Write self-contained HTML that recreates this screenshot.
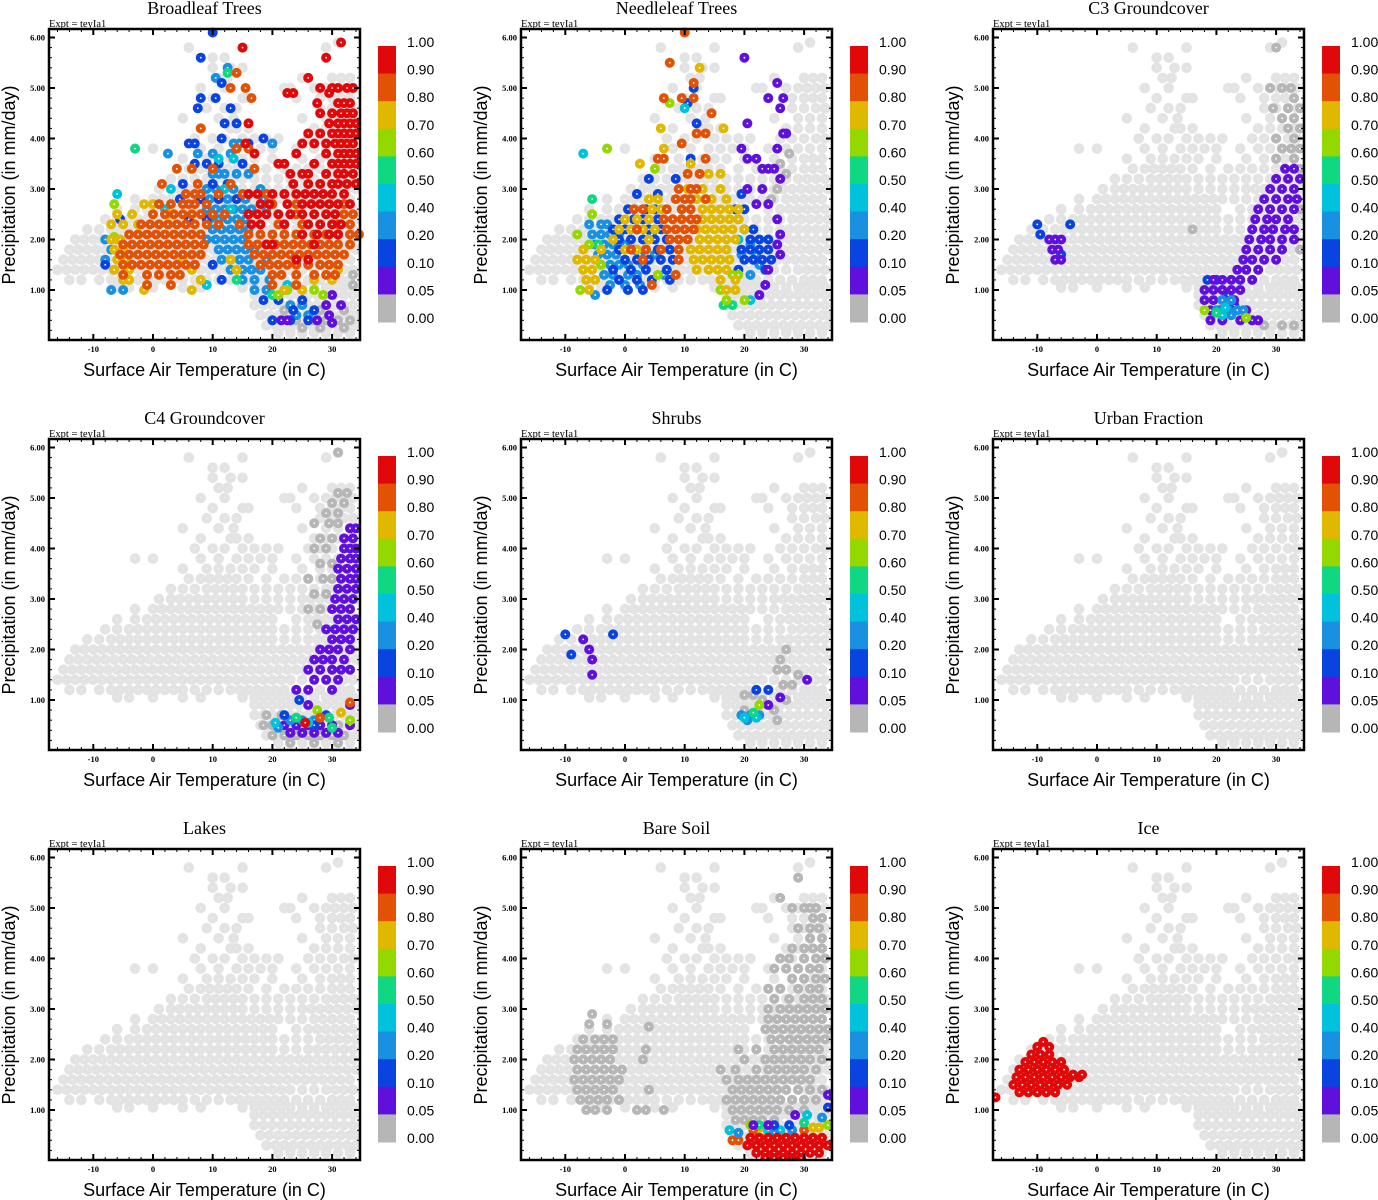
<!DOCTYPE html>
<html><head><meta charset="utf-8"><style>
html,body{margin:0;padding:0;background:#fff;}
svg{display:block;}
</style></head><body>
<svg id="chart" width="1378" height="1200" viewBox="0 0 1378 1200" xmlns="http://www.w3.org/2000/svg"></svg>
<script>
// ---- data ----
const panelTitles = ["Broadleaf Trees","Needleleaf Trees","C3 Groundcover","C4 Groundcover","Shrubs","Urban Fraction","Lakes","Bare Soil","Ice"];
const xTicks = [-10,0,10,20,30];
const yTicks = [1,2,3,4,5,6];
const yTickLabels = ["1.00","2.00","3.00","4.00","5.00","6.00"];
const cbLabels = ["1.00","0.90","0.80","0.70","0.60","0.50","0.40","0.20","0.10","0.05","0.00"];
const cbColors = ["#e00808","#e25206","#e0b800","#94d800","#10d882","#00c2dc","#1a90e0","#0a44e0","#6010dc","#b6b6b6"];
const cbBounds = [1.0,0.9,0.8,0.7,0.6,0.5,0.4,0.2,0.1,0.05,0.0];
// background cloud: each row = [P, T...]
const bgRows = [
[0.15,21,23,25,27,29,31,33],
[0.3,19,20.5,22,23.5,25,26.5,28,29.5,31,32.5,34],
[0.5,18,19.5,21,22.5,24,25.5,27,28.5,30,31.5,33,34],
[0.7,17,18.5,20,21.5,23,24.5,26,27.5,29,30.5,32,33.5],
[0.9,17,18.5,20,21.5,23,24.5,26,27.5,29,30.5,32,33.5],
[1.05,-6,-4,0,5,8,15,17,18.5,20,21.5,23,25,27,29,30.5,32,33.5],
[1.2,-14,-12,-9,-7,-5.5,-4,-2.5,-1,0.5,2,3.5,5,7,9,11,13,14.5,16,17.5,19,20.5,22,24,26,28,30,31.5,33],
[1.4,-16,-14.5,-13,-11.5,-10,-8.5,-7,-5.5,-4,-2.5,-1,0.5,2,3.5,5,6.5,8,9.5,11,12.5,14,15.5,17,18.5,20,21.5,23,25,27,29,30.5,32,33.5],
[1.6,-15,-13.5,-12,-10.5,-9,-7.5,-6,-4.5,-3,-1.5,0,1.5,3,4.5,6,7.5,9,10.5,12,13.5,15,16.5,18,19.5,21,22.5,24,25.5,27,28.5,30,31.5,33],
[1.8,-14,-12.5,-11,-9.5,-8,-6.5,-5,-3.5,-2,-0.5,1,2.5,4,5.5,7,8.5,10,11.5,13,14.5,16,17.5,19,20.5,22,23.5,25,26.5,28,29.5,31,32.5,34],
[2.0,-13,-11.5,-10,-8.5,-7,-5.5,-4,-2.5,-1,0.5,2,3.5,5,6.5,8,9.5,11,12.5,14,15.5,17,18.5,20,21.5,23,24.5,26,27.5,29,30.5,32,33.5],
[2.2,-11,-9,-7,-5.5,-4,-2.5,-1,0.5,2,3.5,5,6.5,8,9.5,11,12.5,14,15.5,17,18.5,20,22,24,26,27.5,29,30.5,32,33.5],
[2.4,-8,-6,-4,-2.5,-1,0.5,2,3.5,5,6.5,8,9.5,11,12.5,14,15.5,17,18.5,20,22,24,26,28,29.5,31,32.5,34],
[2.6,-6,-3,-1,0.5,2,3.5,5,6.5,8,9.5,11,12.5,14,15.5,17,18.5,20,24,26,27.5,29,30.5,32,33.5],
[2.8,-3,0,1.5,3,4.5,6,7.5,9,10.5,12,13.5,15,16.5,18,19.5,21,23,25,27,28.5,30,31.5,33],
[3.0,1,3,4.5,6,7.5,9,10.5,12,13.5,15,17,19,21,23,25,26.5,28,29.5,31,32.5,34],
[3.2,3,5,7,9,10.5,12,13.5,15,17,19,21,23,25,27,29,30.5,32,33.5],
[3.4,6,8,9.5,11,12.5,14,16,19,22,24,26,28,30,31.5,33],
[3.6,5,9,11,13,15,17,20,25,28,30,31.5,33],
[3.8,-3,0,8,11,14,16,18,20,24,27,29,31,33],
[4.0,7,10,12,15,17,19,21,26,28,30,32,33.5],
[4.2,8,13,14,16,27,29,31,33],
[4.4,5,11,13.5,25,29,31,33],
[4.6,9,12,14,28,30,32,33.5],
[4.8,10,15,16,24,28,30,31.5,33],
[5.0,8,12,22,23,27,29,30.5,32,33.5],
[5.2,11,12.5,25,30,31.5,33],
[5.4,10,13,15],
[5.6,10,12],
[5.8,6,15,29],
[5.9,31]
];
// per-panel coloured points: each row = [value, P, T...]
const broadleafRows = [
[0,1.3,33.5],[0,1.1,33.5],[0,0.6,22,28,32],[0,0.4,24,27,29,31,33],[0,0.25,25,28,32],
[0.3,5.4,12.5],[0.3,5.2,10.5],[0.3,3.9,13.5,14.5,20],[0.3,3.7,2.5,7.5,10,13],[0.3,3.3,10,11,12,14,16],[0.3,3.0,9,10.5,12,13.5,18],[0.3,2.8,8,9.5,11,12.5,14,15.5,18.5],[0.3,2.6,9,10.5,12,13.5,15,16.5,19],[0.3,2.4,9.5,11,12.5,14,15.5],[0.3,2.2,10,11.5,13,14.5,16],[0.3,2.0,-8,9,10.5,12,13.5,15],[0.3,1.8,-7,11,12.5,14,15.5,17],[0.3,1.6,-8,11.5,13,14.5,16,19],[0.3,1.4,-6.5,13,15,16.5,18],[0.3,1.2,15,17,19.5],[0.3,1.0,-7,-5,17,19,22],[0.3,0.7,23,25],[0.3,0.5,24,26],
[0.15,6.1,10],[0.15,5.6,8],[0.15,5.1,11.5],[0.15,4.8,8,10.5],[0.15,4.6,7.5,13],[0.15,4.3,12,14],[0.15,4.0,11.5,18.5],[0.15,3.9,6,7,16],[0.15,3.5,7,9,11,15],[0.15,3.1,5,10,12.5],[0.15,2.8,4.5,8,11,14],[0.15,2.4,-5.5,6,9],[0.15,1.5,-8,7,10],[0.15,1.2,11.5],[0.15,0.8,18.5,21,25],[0.15,0.6,23.5,27],[0.15,0.4,20,23,26],
[0.07,0.9,30],[0.07,0.7,29,31.5],[0.07,0.5,29.5],[0.07,0.4,21.5,22.5,27.5],[0.07,0.35,30],
[0.45,2.9,-6],[0.45,3.6,11,13.5],[0.45,3.0,3,12],[0.45,2.6,2,13],[0.45,1.1,9,22.5],
[0.55,5.3,12.5],[0.55,3.8,-3],[0.55,1.2,14],[0.55,0.9,20],
[0.65,2.7,-6.5],[0.65,2.05,-6.5],[0.65,1.0,27,22.5],[0.65,0.9,21,28.5],
[0.75,2.7,-1.5,0],[0.75,2.5,-6,-3.5,2.5],[0.75,2.3,-7,-5,-2.5],[0.75,2.0,-7,-6,-5.5],[0.75,1.8,-6.5,-5],[0.75,1.6,-6,-4.5,5,13],[0.75,1.4,-6.5,-4,6.5,14,31],[0.75,1.2,-5,-4,8,27,30],[0.75,1.0,-1.5,6.5,22,25],
[0.85,5.3,14],[0.85,5.0,13,15.5],[0.85,4.8,16.5],[0.85,4.2,8],[0.85,3.8,14,16],[0.85,3.4,4,6.5,10,17],[0.85,3.1,1.5,7.5,13],[0.85,2.9,5.5,7,8,11,15,19],[0.85,2.7,1,3,5,6,7,9,20,24,32],[0.85,2.5,0,2,3.5,5,6.5,8,10,12,24,32,33.5],[0.85,2.3,-2,-0.5,1,2.5,4,5.5,7,9,11,14.5,21,25,31,33],[0.85,2.1,-4,-2.5,-1,0.5,2,3.5,5,6.5,8,16,18,20,22,24,27,29,31,33,34.5],[0.85,1.9,-5,-3.5,-2,-0.5,1,2.5,4,5.5,7,8.5,16,17.5,19,20.5,22,23.5,25,26.5,28,29.5,31,33],[0.85,1.7,-5.5,-4,-2.5,-1,0.5,2,3.5,5,6.5,8,17,18.5,20,21.5,23,24.5,26,27.5,29,30.5,32],[0.85,1.5,-5,-3.5,-2,-0.5,1,2.5,4,5.5,7,18,19.5,21,22.5,24,26,28,29.5,31],[0.85,1.3,-5,-1,1,3,4.5,20,21.5,24,27,29,30.5],[0.85,1.1,-1,3,20,24],
[0.95,5.9,31.5],[0.95,5.8,15],[0.95,5.6,29],[0.95,5.2,26],[0.95,5.0,28,30,31,32.5,33.5],[0.95,4.9,22.5,23.5,29.5],[0.95,4.7,27.5,31,32,33],[0.95,4.5,28,30,31.5,32.5,33.5],[0.95,4.3,16,29.5,31,32,33,34],[0.95,4.1,26,28,30,31,32,33,34],[0.95,3.9,15.5,25,27,29,30.5,31.5,32.5,33.5],[0.95,3.7,17,24,29,31,32,33,34],[0.95,3.5,21,22,27,30,31,32,33,34],[0.95,3.3,23,25,26,29,31,32,33.5],[0.95,3.1,23.5,26,28,30,31,32.5,34],[0.95,2.9,16,17.5,20,22,24,25.5,27,28.5,30,32],[0.95,2.7,18,19.5,22.5,25,26.5,28,29.5,31,33],[0.95,2.5,16,17.5,19,21,23,25,27,29,30.5],[0.95,2.3,16.5,18,22,26,28,30,31.5],[0.95,2.1,25,27.5,29.5,31],[0.95,1.9,19,20,27],[0.95,1.6,24,26]
];
const needleleafRows = [
[0,3.7,27.5],[0,3.5,26],[0,3.3,27],[0,3.0,25.5],[0,2.8,24.5],
[0.3,2.3,-6,-4,-3],[0.3,2.1,-5.5,-4,-2.5,-1,4.5],[0.3,1.9,-5,-3.5,-2,0,21],[0.3,1.7,-4.5,-3,-1.5,2.5,5,19.5,22],[0.3,1.5,-4,-2.5,-1,0.5,3,22.5],[0.3,1.3,-3.5,-2,0.5,2,6.5,21],[0.3,1.1,-2.5,0,2.5],[0.3,0.9,-5],
[0.15,5.0,11.5],[0.15,4.7,10.5],[0.15,4.3,12],[0.15,3.6,11],[0.15,3.2,4,8.5],[0.15,2.9,2,5.5,19.5],[0.15,2.6,0.5,3.5,5,18.5,20],[0.15,2.4,-1,1.5,3,5.5,19],[0.15,2.2,-2,0,2,4,6,20,21.5],[0.15,2.0,-1,1,3,5,7,21,22.5,24],[0.15,1.8,-1,1.5,3.5,5.5,7.5,19.5,21,22.5,24],[0.15,1.6,0,2,4,6,8,20,21.5,23,24.5],[0.15,1.4,-2,1,3.5,7,19,23.5],[0.15,1.2,-1,2,4.5,7.5],[0.15,1.0,-3,0.5,3],
[0.07,5.6,20],[0.07,5.1,25.5],[0.07,4.8,24,26.5],[0.07,4.6,26],[0.07,4.3,20.5],[0.07,4.1,27,26.5],[0.07,3.8,19.5,25.5],[0.07,3.6,20.5,22],[0.07,3.4,23,24,25],[0.07,3.2,26],[0.07,3.0,20.5,23],[0.07,2.7,22,24],[0.07,2.4,25.5],[0.07,2.1,26],[0.07,1.9,25.5],[0.07,1.7,26],[0.07,1.4,24],[0.07,1.1,23.5],[0.07,0.9,22.5],
[0.45,4.6,10],[0.45,3.7,-7],[0.45,2.0,19],[0.45,0.8,21],
[0.55,2.8,-5.5],[0.55,1.9,-4.5],[0.55,0.7,16.5,18],
[0.65,4.7,7.5],[0.65,3.8,-3],[0.65,3.4,5],[0.65,2.5,-5.5],[0.65,2.1,-8],[0.65,1.9,-6],[0.65,1.5,-4],[0.65,1.3,5.5,18,19],[0.65,1.0,-7.5,16],[0.65,0.8,17,20],
[0.75,5.4,12.5],[0.75,4.2,6,16.5],[0.75,3.8,6.5],[0.75,3.5,2.5,11],[0.75,3.3,14,16],[0.75,3.0,10.5,13,16],[0.75,2.8,4,5.5,12,14.5,17],[0.75,2.6,4.5,6,13,14.5,16,17.5,19],[0.75,2.4,0,2,4,13,14.5,16,17.5,19],[0.75,2.2,-1,1,3,5,12,13.5,15,16.5,18,20],[0.75,2.0,-2,4,12.5,14,15.5,17,18.5],[0.75,1.8,-7,-4,0,2,11,12.5,14,15.5,17],[0.75,1.6,-8,-6.5,-5,11.5,13,14.5,16,17.5],[0.75,1.4,-7,-5.5,12,14,15.5,17],[0.75,1.2,-6.5,-5,16,18.5],[0.75,1.0,-6,17,18.5],
[0.85,6.1,10],[0.85,5.5,7.5],[0.85,5.1,11.5],[0.85,4.8,6.5,9.5,11.5],[0.85,4.5,14.5],[0.85,4.1,12,13.5],[0.85,3.9,9.5],[0.85,3.6,5.5,6.5,13.5],[0.85,3.3,10.5,12.5],[0.85,3.0,9,11,12],[0.85,2.8,8.5,10,11,13.5],[0.85,2.6,1.5,3,7,9.5,11],[0.85,2.4,6.5,8,9.5,11,12],[0.85,2.2,2,7,8.5,10,11.5],[0.85,2.0,7.5,9,10.5],[0.85,1.8,1,3.5,6,9],[0.85,1.6,3,9],[0.85,1.3,8.5],[0.85,1.1,4.5]
];
const c3Rows = [
[0,5.8,30],[0,5.0,29,31,32.5],[0,4.8,33],[0,4.6,29.5,32,34],[0,4.4,31,33],[0,4.2,32,34],[0,4.0,30,33],[0,3.8,31,32.5,34],[0,3.6,30,33],[0,3.4,34],[0,2.6,34],[0,2.2,16],[0,1.8,34],[0,0.3,28,31,33],
[0.15,2.3,-10,-4.5],[0.15,2.1,-9.5],[0.15,1.7,-6],[0.15,1.2,18.5,20],[0.15,0.9,22],[0.15,0.7,23],
[0.07,2.0,-8,-7,-6],[0.07,1.8,-7.5,-6.5],[0.07,1.6,-6,-7],[0.07,3.4,31.5,33],[0.07,3.2,30,32,34],[0.07,3.0,29,31,33],[0.07,2.8,28,30,32,33.5],[0.07,2.6,27,29,31,33],[0.07,2.4,26.5,28.5,30,32],[0.07,2.2,26,28,29.5,31.5,33],[0.07,2.0,25.5,27.5,29,31,33],[0.07,1.8,25,27,29,31],[0.07,1.6,24.5,26,28,30],[0.07,1.4,23.5,25,27],[0.07,1.2,19.5,21,22.5,24,26],[0.07,1.0,18,19.5,21,22.5,24],[0.07,0.8,18,19.5,21,23],[0.07,0.6,19,20.5,25],[0.07,0.4,19,21,24,26,27],
[0.3,0.8,21,22.5],[0.3,0.6,20,22,23.5,24.5],[0.3,0.5,22.5],
[0.45,0.65,21.5],[0.45,0.5,21],[0.55,0.55,20],[0.65,0.6,18],[0.65,0.45,25]
];
const c4Rows = [
[0,5.9,31],[0,5.1,31,32.5],[0,4.9,30,32],[0,4.7,29,31],[0,4.5,27,29.5,31],[0,4.2,28,30],[0,4.0,27,29],[0,3.7,28,30],[0,3.4,26,28.5,30],[0,3.1,27,29],[0,2.8,26,28],[0,2.5,27.5],[0,0.7,19,21.5],[0,0.5,18.5,20,25,31],[0,0.3,20,22,24,26,28,30,32],[0,0.15,23,27,31],
[0.07,4.4,33,34],[0.07,4.2,32,33.5],[0.07,4.0,32,33,34],[0.07,3.8,31.5,33,34],[0.07,3.6,31,32.5,34],[0.07,3.4,31.5,33,34],[0.07,3.2,31,32.5,34],[0.07,3.0,30.5,32,33.5],[0.07,2.8,30,31.5,33],[0.07,2.6,31,32.5,34],[0.07,2.4,29,30.5,32,33.5],[0.07,2.2,30,31.5,33],[0.07,2.0,28,29.5,31,33],[0.07,1.8,27,28.5,30,32],[0.07,1.6,26,28,30,31.5,33],[0.07,1.4,27,29,31],[0.07,1.2,24,26,30],[0.07,0.9,26,33],[0.07,0.5,22,24,26,28,30,33],[0.07,0.35,23,25,27,29,31],
[0.3,0.6,23,25,27],[0.3,0.45,21],[0.15,0.7,22,29],[0.15,0.5,27],[0.15,1.0,24.5],
[0.45,0.55,20.5,26],[0.55,0.65,24,29.5],[0.55,0.45,30],[0.65,0.8,27.5],[0.65,0.6,33],[0.75,0.75,31.5],[0.85,0.95,33],[0.85,0.65,28],[0.95,0.55,25.5]
];
const shrubRows = [
[0,1.8,26],[0,1.6,27,25.5],[0,1.3,26.5,28],[0,1.1,20,21.5],[0,1.0,23,27],[0,0.8,20,25],[0,0.6,25.5],[0,2.0,27],[0,1.5,29],
[0.15,2.3,-10,-2],[0.15,1.9,-9],[0.15,1.2,22,24],
[0.07,2.2,-7],[0.07,2.0,-6],[0.07,1.8,-5.5],[0.07,1.5,-5.5],[0.07,1.05,26],[0.07,0.9,24],[0.07,1.4,30.5],
[0.3,0.7,19.5,21,22.5],[0.3,0.6,20.5],[0.45,0.65,20,22],[0.55,0.75,21.5],[0.65,0.9,22.5]
];
const urbanRows = [];
const lakeRows = [];
const bareRows = [
[0,5.6,29],[0,5.2,26],[0,5.0,28,30,31,32],[0,4.8,31.5,33],[0,4.6,29,31,32.5],[0,4.4,31,33],[0,4.2,28,30,31.5,33],[0,4.0,26,27.5,30,32,33.5],[0,3.8,25,27,29,31,32.5],[0,3.6,28,30,32,33.5],[0,3.4,24,26,29,31,32.5],[0,3.2,25,27.5,30,31.5,33],[0,3.0,24,26,27.5,29,30.5,32,33.5],[0,2.8,24,25.5,27,28.5,30,31.5,33],[0,2.6,23.5,25,26.5,28,29.5,31,32.5,34],[0,2.4,24.5,26,27.5,29,30.5,32,33.5],[0,2.2,19,22,25,26.5,28,29.5,31,32.5],[0,2.0,20,23.5,25,26.5,28,29.5,31,33],[0,1.8,16,18.5,22,24,25.5,27,28.5,30,32],[0,1.6,17,19,20.5,22,23.5,25,26.5,28,29.5,31],[0,1.4,18,19.5,21,22.5,24,25.5,27,29,31,33],[0,1.2,17,18.5,20,21.5,23,24.5,26,28,30,32],[0,1.0,18,19.5,21,22.5,24,25.5,27.5,30],[0,0.8,18.5,20,21.5,23,25],
[0,2.9,-5.5],[0,2.7,-6,-3],[0,2.4,-7,-5,-3.5,-2],[0,2.2,-8,-6.5,-5,-3.5,-2,3.5],[0,2.0,-8.5,-7,-5.5,-4,-2.5,3],[0,1.8,-8,-6.5,-5,-3.5,-2,-0.5],[0,1.6,-8.5,-7,-5.5,-4,-2.5,-1],[0,1.4,-8,-6.5,-5,-3.5,-2,4],[0,1.2,-7.5,-6,-4.5,-3,-1],[0,1.0,-6.5,-5,-3,2,3.5,6.5],[0,2.65,4],
[0.85,0.4,18,19],[0.85,0.6,21.5,30],[0.85,0.55,26],[0.75,0.65,31.5,32.5],[0.75,0.55,23],[0.65,0.7,21,34],[0.55,0.7,22.5],[0.55,0.75,30],[0.45,0.6,17.5,26,24],[0.45,0.9,30.5],[0.3,0.55,19,25],[0.3,0.85,33],[0.3,0.6,28],[0.15,0.7,25,27.5],[0.15,1.05,34],[0.07,0.7,21.5,24],[0.07,0.9,28.5],[0.07,1.3,34],
[0.95,0.45,21,22.5,24,25.5,27,28.5,30,31.5,33],[0.95,0.3,20.5,22,23.5,25,26.5,28,29.5,31,32.5,34],[0.95,0.15,22,23.5,25,26.5,28,29.5,31,32.5],[0.95,0.05,23.5,25,26.5,28,29.5]
];
const iceRows = [
[0.95,2.35,-9],[0.95,2.25,-10,-8],[0.95,2.1,-11,-9.5,-8],[0.95,1.95,-12,-10.5,-9,-7.5,-6],[0.95,1.8,-13,-11.5,-10,-8.5,-7,-5.5],[0.95,1.65,-13.5,-12,-10.5,-9,-7.5,-6,-4.5,-3],[0.95,1.5,-14,-12.5,-11,-9.5,-8,-6.5,-5],[0.95,1.35,-13,-11.5,-10,-8.5,-7],[0.95,1.25,-17],[0.95,1.7,-2.5,-4]
];
const panelRows = [broadleafRows,needleleafRows,c3Rows,c4Rows,shrubRows,urbanRows,lakeRows,bareRows,iceRows];
const panelNames = ["broadleaf","needleleaf","c3-groundcover","c4-groundcover","shrubs","urban","lakes","bare-soil","ice"];

// ---- drawing ----
const NS = "http://www.w3.org/2000/svg";
const svg = document.getElementById('chart');
function mk(tag, attrs, parent){ const e=document.createElementNS(NS,tag); for(const k in attrs) e.setAttribute(k,attrs[k]); parent.appendChild(e); return e; }
const PX0=49, PX1=360, PY0=29, PY1=340;
function xS(t){ return 153 + t*5.97; }
function yS(p){ return 340.5 - p*50.5; }
function colorFor(v){ for(let i=0;i<10;i++){ if(v>=cbBounds[i+1] && v<=cbBounds[i]) return cbColors[i]; } return cbColors[9]; }
function dot(g, t, p, col, cent, r){
  const c = mk('circle',{cx:xS(t),cy:yS(p),r:r,fill:col},g);
  
  
  mk('circle',{cx:xS(t),cy:yS(p),r:0.9,fill:cent},g);
}

for(let k=0;k<9;k++){
  const ox = (k%3)*472, oy = Math.floor(k/3)*410;
  const g = mk('g',{transform:`translate(${ox},${oy})`},svg);
  
  
  const title = mk('text',{x:204.5,y:14,'text-anchor':'middle','font-family':'"Liberation Serif",serif','font-size':18},g);
  title.textContent = panelTitles[k];
  
  
  const ex = mk('text',{x:49,y:27,'font-family':'"Liberation Serif",serif','font-size':10.5},g);
  ex.textContent = 'Expt = teyIa1';
  
  
  const cp = mk('clipPath',{id:'cp'+k},g);
  mk('rect',{x:PX0,y:PY0-6,width:PX1-PX0+6,height:PY1-PY0+6},cp);
  const pts = mk('g',{'clip-path':`url(#cp${k})`},g);
  
  
  for(const row of bgRows){ for(let j=1;j<row.length;j++) dot(pts,row[j],row[0],'#e3e3e3','#ececec',5.3); }
  for(const row of panelRows[k]){ const col=colorFor(row[0]); for(let j=2;j<row.length;j++) dot(pts,row[j],row[1],col,'#ffffff',5); }
  const fr = mk('rect',{x:PX0,y:PY0,width:PX1-PX0,height:PY1-PY0,fill:'none',stroke:'#000','stroke-width':2.5},g);
  
  
  for(let t=-16;t<=34;t+=2){ const x=xS(t); const maj = xTicks.includes(t); const L=maj?6:3;
    mk('line',{x1:x,y1:PY1,x2:x,y2:PY1-L,stroke:'#000','stroke-width':maj?2:1},g);
    mk('line',{x1:x,y1:PY0,x2:x,y2:PY0+L,stroke:'#000','stroke-width':maj?2:1},g); }
  for(let i=1;i<=30;i++){ const p=i*0.2; const y=yS(p); const maj=(i%5===0); const L=maj?6:3;
    mk('line',{x1:PX0,y1:y,x2:PX0+L,y2:y,stroke:'#000','stroke-width':maj?2:1},g);
    mk('line',{x1:PX1,y1:y,x2:PX1-L,y2:y,stroke:'#000','stroke-width':maj?2:1},g); }
  xTicks.forEach(t=>{ const tx=mk('text',{x:xS(t),y:352,'text-anchor':'middle','font-family':'"Liberation Serif",serif','font-size':8.5,'font-weight':'bold'},g); tx.textContent=String(t);
      });
  yTicks.forEach((p,i)=>{ const ty=mk('text',{x:45,y:yS(p)+3,'text-anchor':'end','font-family':'"Liberation Serif",serif','font-size':8.5,'font-weight':'bold'},g); ty.textContent=yTickLabels[i];
      });
  const xl = mk('text',{x:204.5,y:376,'text-anchor':'middle','font-family':'"Liberation Sans",sans-serif','font-size':18},g);
  xl.textContent='Surface Air Temperature (in C)';
   
  const yl = mk('text',{x:0,y:0,'text-anchor':'middle','font-family':'"Liberation Sans",sans-serif','font-size':18,transform:'translate(15,185) rotate(-90)'},g);
  yl.textContent='Precipitation (in mm/day)';
   
  const cb = mk('g',{},g);
   
  const bh = 27.6;
  for(let i=0;i<10;i++){ mk('rect',{x:378,y:46+i*bh,width:18,height:bh+0.5,fill:cbColors[i]},cb); }
  cbLabels.forEach((s,i)=>{ const t=mk('text',{x:407,y:47+i*bh,'font-family':'"Liberation Sans",sans-serif','font-size':14},cb); t.textContent=s;
      });
}
</script>
</body></html>
